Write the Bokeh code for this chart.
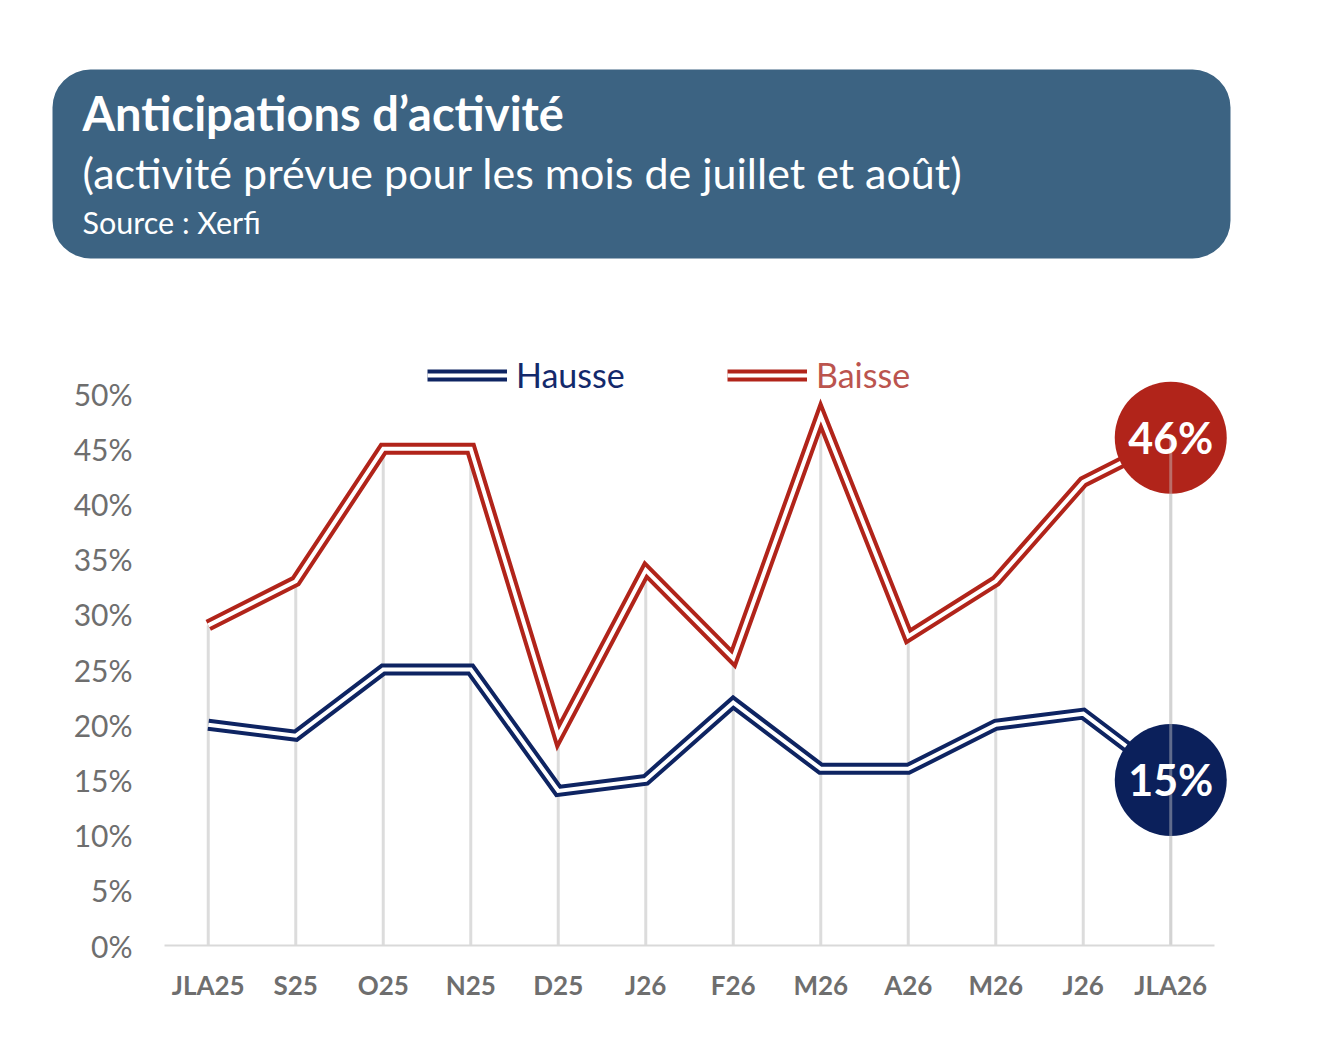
from bokeh.plotting import figure
from bokeh.models import (Range1d, BoxAnnotation, FixedTicker, Legend, LegendItem)
from bokeh.core.properties import value
from bokeh.embed import file_html
from bokeh.resources import INLINE
import numpy as np

# ---------------- data ----------------
categories = ["JLA25", "S25", "O25", "N25", "D25", "J26", "F26", "M26", "A26", "M26", "J26", "JLA26"]
hausse = [20, 19, 25, 25, 14, 15, 22, 16, 16, 20, 21, 15]
baisse = [29, 33, 45, 45, 19, 34, 26, 48, 28, 33, 42, 46]
y_ticks = [0, 5, 10, 15, 20, 25, 30, 35, 40, 45, 50]

title = "Anticipations d\u2019activit\u00e9"
subtitle = "(activit\u00e9 pr\u00e9vue pour les mois de juillet et ao\u00fbt)"
source_txt = "Source : Xerfi"

NAVY = "#0e2462"
RED = "#b1241a"
HEADER = "#3c6382"
GRAY_TXT = "#6e6e6e"
FONT = "Lato"

W = 1310

# ---------------- header figure (data coords = pixels) ----------------
H1 = 290
hdr = figure(width=W, height=H1, x_range=Range1d(0, W), y_range=Range1d(0, H1),
             x_axis_type=None, y_axis_type=None, toolbar_location=None,
             output_backend="svg", min_border=0, min_border_left=0, min_border_right=0,
             min_border_top=0, min_border_bottom=0)
hdr.outline_line_color = None
hdr.xgrid.visible = False
hdr.ygrid.visible = False

hdr.add_layout(BoxAnnotation(left=52, right=1230, bottom=H1 - 258, top=H1 - 69,
                             fill_color=HEADER, fill_alpha=1, line_color=None,
                             border_radius=38, level="underlay"))
hdr.text(x=[82], y=[H1 - 112], text=[title], text_color="white",
         text_font=value(FONT), text_font_style="bold", text_font_size="47px",
         text_baseline="alphabetic")
hdr.text(x=[82], y=[H1 - 172], text=[subtitle], text_color="white",
         text_font=value(FONT), text_font_size="43px", text_baseline="alphabetic")
hdr.text(x=[82], y=[H1 - 221], text=[source_txt], text_color="white",
         text_font=value(FONT), text_font_size="30.5px", text_baseline="alphabetic")

# ---------------- chart figure ----------------
UNIT = 87.5
FRAME_W = 1081
FRAME_H = 627
x = np.arange(len(categories))
x_end = -0.5 + FRAME_W / UNIT

p = figure(width=W, height=28 + FRAME_H + 103, x_range=Range1d(-0.5, x_end),
           y_range=Range1d(0, FRAME_H / 11.04), toolbar_location=None, output_backend="svg",
           min_border_left=164, min_border_right=W - 164 - FRAME_W,
           min_border_top=28, min_border_bottom=103)
p.outline_line_color = None
p.xgrid.visible = False
p.ygrid.visible = False

top_vals = np.maximum(np.array(hausse), np.array(baisse))
p.segment(x0=x, y0=np.zeros(len(x)), x1=x, y1=top_vals, line_color="#dcdcdc", line_width=3)

h_out = p.line(x, hausse, line_color=NAVY, line_width=12, line_join="miter")
h_in = p.line(x, hausse, line_color="white", line_width=4, line_join="miter")
b_out = p.line(x, baisse, line_color=RED, line_width=12, line_join="miter")
b_in = p.line(x, baisse, line_color="white", line_width=4, line_join="miter")

last = len(categories) - 1
p.scatter(x=[last], y=[baisse[-1]], size=112, fill_color=RED, line_color=None)
p.scatter(x=[last], y=[hausse[-1]], size=112, fill_color="#0b205b", line_color=None)
p.segment(x0=[last], y0=[0], x1=[last], y1=[top_vals[-1]], line_color="#c8c8c8",
          line_width=3, line_alpha=0.45)
p.text(x=[last], y=[baisse[-1]], text=[f"{baisse[-1]}%"], text_color="white",
       text_font=value(FONT), text_font_style="bold", text_font_size="43px",
       text_align="center", text_baseline="middle")
p.text(x=[last], y=[hausse[-1]], text=[f"{hausse[-1]}%"], text_color="white",
       text_font=value(FONT), text_font_style="bold", text_font_size="43px",
       text_align="center", text_baseline="middle")

# axes
p.xaxis.ticker = FixedTicker(ticks=list(x))
p.xaxis.major_label_overrides = {int(i): c for i, c in zip(x, categories)}
p.xaxis.bounds = (-0.5, len(categories) - 0.5)
p.xaxis.axis_line_color = "#d9d9d9"
p.xaxis.axis_line_width = 2
p.xaxis.major_tick_line_color = None
p.xaxis.minor_tick_line_color = None
p.xaxis.major_label_standoff = 17
p.xaxis.major_label_text_font = FONT
p.xaxis.major_label_text_font_style = "bold"
p.xaxis.major_label_text_font_size = "26px"
p.xaxis.major_label_text_color = GRAY_TXT

p.yaxis.ticker = FixedTicker(ticks=y_ticks)
p.yaxis.major_label_overrides = {t: f"{t}%" for t in y_ticks}
p.yaxis.axis_line_color = None
p.yaxis.major_tick_line_color = None
p.yaxis.minor_tick_line_color = None
p.yaxis.major_label_standoff = 26
p.yaxis.major_label_text_font = FONT
p.yaxis.major_label_text_font_size = "30px"
p.yaxis.major_label_text_color = GRAY_TXT

# legends
def make_legend(label, rends, color, loc):
    lg = Legend(items=[LegendItem(label=label, renderers=rends)], location=loc,
                orientation="horizontal", padding=0, margin=0, spacing=0,
                glyph_width=80, glyph_height=30, label_height=30, label_standoff=9,
                border_line_color=None, background_fill_alpha=0,
                label_text_font=FONT, label_text_font_size="34px",
                label_text_color=color, label_text_baseline="middle")
    p.add_layout(lg)

make_legend("Hausse", [h_out, h_in], "#13296b", (263, 550))
make_legend("Baisse", [b_out, b_in], "#bb544e", (563, 550))

open("out.html", "w").write(file_html([hdr, p], INLINE))
